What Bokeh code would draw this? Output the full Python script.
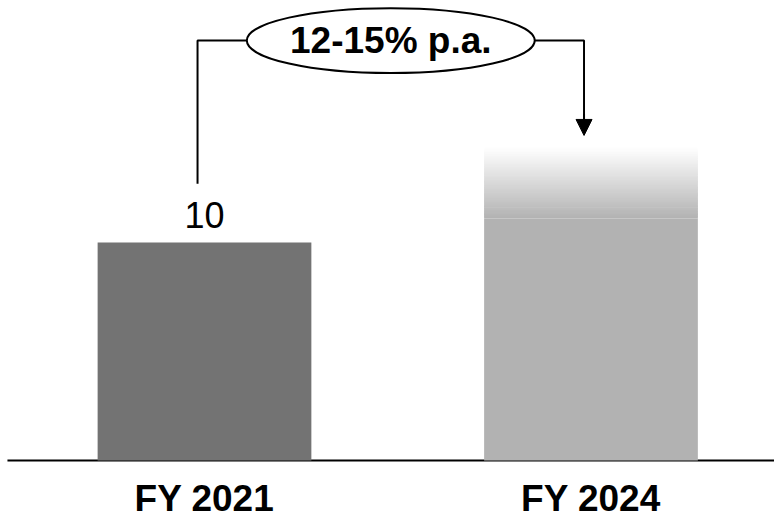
from bokeh.plotting import figure
from bokeh.models import Range1d, Arrow, NormalHead
from bokeh.core.properties import value
from bokeh.embed import file_html
from bokeh.resources import INLINE

# ---- data ----
categories = ["FY 2021", "FY 2024"]
base_value = [10]            # FY 2021 actual
target_low = [11.1]          # FY 2024 solid part
target_high = [14.36]        # FY 2024 top of faded range
value_label = ["10"]
cagr_label = "12-15% p.a."

FONT = "Liberation Sans"
xs = [i + 0.5 for i in range(len(categories))]
BAR_W = 0.553
X0, X1 = -0.0278, 1.9748
Y0, Y1 = -2.569, 21.10

p = figure(width=774, height=516, output_backend="svg", toolbar_location=None,
           x_range=Range1d(X0, X1), y_range=Range1d(Y0, Y1),
           min_border_left=0, min_border_right=0, min_border_top=0, min_border_bottom=0)
p.outline_line_color = None
p.xgrid.visible = False
p.ygrid.visible = False
p.xaxis.visible = False
p.yaxis.visible = False
p.background_fill_color = "white"

# baseline
p.segment(x0=[X0 + 0.018], y0=[0], x1=[X1], y1=[0], line_color="black", line_width=2)

# category labels
p.text(x=xs, y=[0] * len(xs), text=categories, text_font=value(FONT), text_font_style="bold",
       text_font_size="37px", text_align="center", text_baseline="alphabetic", y_offset=38,
       text_color="black")

# FY 2021 bar
p.vbar(x=[xs[0]], top=base_value, bottom=0, width=BAR_W, fill_color="#737373", line_color=None)
p.text(x=[xs[0]], y=base_value, text=value_label, text_font=value(FONT), text_font_size="36px",
       text_align="center", text_baseline="alphabetic", y_offset=-27, text_color="black")

# FY 2024 bar: solid part plus fading range (opaque colour steps from grey to white)
p.vbar(x=[xs[1]], top=target_low, bottom=0, width=BAR_W, fill_color="#b2b2b2", line_color=None)
N = 60
lo, hi = target_low[0], target_high[0]
step = (hi - lo) / N
bots = [lo + i * step for i in range(N)]
tops = [b + step * 1.6 if i < N - 1 else b + step for i, b in enumerate(bots)]
cols = []
for i in range(N):
    t = (i + 0.5) / N
    c = int(round(0xb2 + (255 - 0xb2) * t))
    cols.append("#%02x%02x%02x" % (c, c, c))
p.vbar(x=[xs[1]] * N, bottom=bots, top=tops, width=BAR_W, fill_color=cols, line_color=None)

# bracket connector
cx0 = xs[0] - 0.018
cx1 = xs[1] - 0.018
yb = 19.26
y_start = base_value[0] + 2.7
y_end = target_high[0] + 0.55
p.line(x=[cx0, cx0, cx1, cx1], y=[y_start, yb, yb, y_end + 0.3], line_color="black", line_width=2)
p.add_layout(Arrow(end=NormalHead(size=16, fill_color="black", line_color="black", line_width=1),
                   x_start=cx1, y_start=y_end + 1.0, x_end=cx1, y_end=y_end,
                   line_color="black", line_width=2))

mx = (cx0 + cx1) / 2
p.ellipse(x=[mx], y=[yb], width=0.745, height=2.98, fill_color="white", line_color="black",
          line_width=2)
p.text(x=[mx], y=[yb], text=[cagr_label], text_font=value(FONT), text_font_style="bold",
       text_font_size="37px", text_align="center", text_baseline="middle", text_color="black")

open("out.html", "w").write(file_html(p, INLINE))
